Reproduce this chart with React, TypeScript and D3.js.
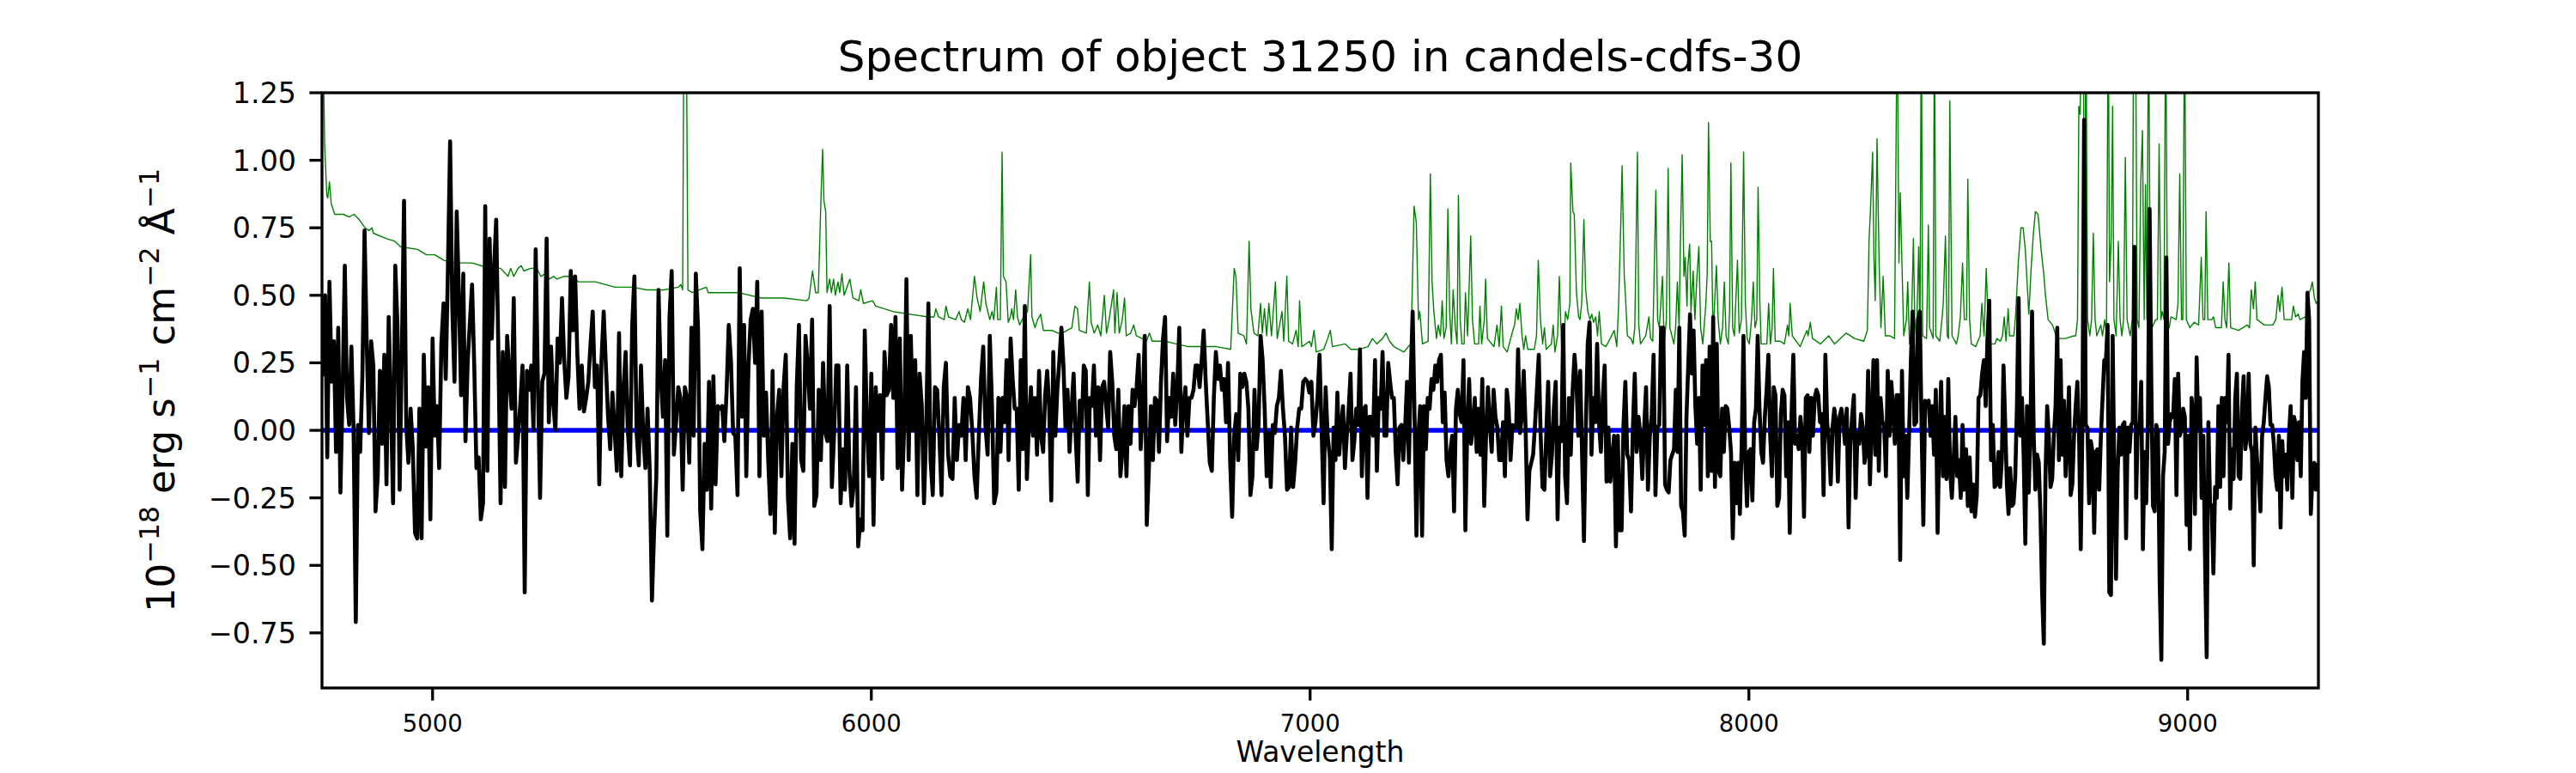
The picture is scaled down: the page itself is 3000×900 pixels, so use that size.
import React from 'react';
import * as d3 from 'd3';

const W = 3000;
const H = 900;
const PLOT = { left: 375, right: 2700, top: 108, bottom: 801 };
const FONT = '"DejaVu Sans", Verdana, sans-serif';

const TITLE = 'Spectrum of object 31250 in candels-cdfs-30';
const X_LABEL = 'Wavelength';
const X_RANGE: [number, number] = [4748, 9298];
const Y_RANGE: [number, number] = [-0.954, 1.25];
const X_TICKS = [5000, 6000, 7000, 8000, 9000];
const Y_TICKS = [-0.75, -0.5, -0.25, 0, 0.25, 0.5, 0.75, 1.0, 1.25];

// flux is sampled evenly inside each wavelength segment
const SEG_START = [4750, 5505, 6285, 7045, 7805, 8565];
const SEG_END = [5500, 6280, 7040, 7800, 8560, 9296];

const FLUX_A = [
  0.2, 0.5, -0.1, 0.55, 0.18, 0.33, -0.08, 0.38, -0.23, 0.15, 0.61, 0.12, 0.02, 0.31, 0.0, -0.71, 0.02, -0.08, 0.2, 0.74,
  0.32, -0.01, 0.33, 0.24, -0.3, -0.17, 0.22, -0.05, 0.28, -0.2, 0.42, 0.1, -0.27, 0.61, 0.39, -0.22, 0.3, 0.85, 0.02, -0.12,
  0.08, -0.07, -0.38, -0.4, 0.08, -0.4, 0.28, -0.06, 0.16, -0.33, 0.34, -0.02, 0.09, -0.14, 0.32, 0.47, 0.19, 0.6, 1.07, 0.45,
  0.18, 0.81, 0.5, 0.13, 0.58, -0.04, 0.25, 0.4, 0.54, 0.24, -0.14, -0.1, -0.33, -0.27, 0.83, -0.15, 0.71, 0.34, 0.6, 0.78,
  0.29, -0.27, 0.29, -0.21, 0.35, 0.2, 0.08, 0.49, -0.12, -0.02, 0.1, 0.24, -0.6, 0.22, 0.15, 0.24, 0.0, 0.67, 0.18, -0.25,
  0.18, 0.21, 0.71, 0.03, 0.31, 0.1, 0.0, 0.34, 0.25, 0.49, 0.26, 0.12, 0.2, 0.59, 0.37, 0.57, 0.28, 0.08, 0.24, 0.07,
  0.12, 0.18, 0.32, 0.44, 0.16, 0.24, -0.2, 0.26, 0.44, 0.24, 0.05, -0.07, 0.14, 0.0, -0.15, 0.36, -0.17, 0.15, 0.29, 0.0,
  -0.13, 0.39, 0.57, -0.01, -0.13, 0.24, -0.01, -0.14, 0.08, -0.15, -0.63,
];

const FLUX_B = [
  -0.37, -0.17, 0.52, 0.2, 0.05, 0.26, -0.39, 0.42, 0.59, -0.09, 0.03, 0.16, 0.12, -0.22, 0.16, 0.12, -0.12, 0.38, -0.02, 0.58,
  0.38, -0.3, -0.44, -0.05, -0.22, 0.18, -0.29, 0.2, -0.2, 0.09, 0.08, 0.09, -0.04, 0.14, 0.39, 0.26, -0.01, -0.02, -0.24, 0.6,
  0.05, 0.39, -0.17, 0.24, 0.41, 0.45, 0.25, 0.55, -0.17, 0.44, -0.02, 0.14, -0.11, -0.31, 0.22, -0.38, 0.05, 0.15, -0.17, 0.16,
  0.28, -0.25, -0.4, -0.05, -0.42, 0.16, 0.39, -0.11, -0.15, 0.35, 0.24, 0.08, 0.41, -0.28, -0.24, 0.15, -0.11, 0.25, -0.01, -0.04,
  0.46, -0.21, -0.02, 0.24, 0.24, -0.27, -0.07, -0.22, 0.24, -0.15, -0.28, -0.2, 0.16, -0.43, -0.33, -0.37, 0.37, 0.02, -0.17, 0.21,
  -0.35, 0.16, 0.0, 0.13, -0.18, 0.29, 0.13, 0.15, 0.39, 0.12, 0.42, -0.14, 0.34, -0.22, 0.02, 0.56, -0.11, 0.35, 0.0, 0.26,
  -0.24, 0.21, 0.09, -0.27, 0.0, 0.47, -0.11, -0.24, 0.16, 0.15, -0.02, -0.24, 0.16, 0.25, -0.09, -0.17, -0.18, 0.12, -0.11, 0.02,
  -0.02, 0.12, -0.11, 0.16, 0.12, 0.0, -0.17, -0.25, -0.02, 0.19, 0.31, 0.02, -0.09, 0.35, 0.09, -0.27,
];

const FLUX_C = [
  -0.23, 0.12, -0.08, 0.12, 0.03, 0.26, -0.11, 0.34, 0.19, 0.08, 0.08, -0.22, 0.26, -0.07, 0.46, -0.18, 0.02, 0.16, -0.02, 0.12,
  -0.09, 0.22, -0.02, -0.08, 0.13, 0.22, 0.08, -0.26, 0.29, -0.02, 0.15, 0.26, 0.38, 0.24, 0.01, 0.15, -0.08, 0.08, 0.21, -0.02,
  -0.19, 0.11, 0.01, 0.24, 0.22, -0.24, 0.12, 0.09, 0.24, -0.02, 0.16, -0.11, 0.16, 0.18, 0.09, 0.01, 0.29, 0.18, -0.02, -0.07,
  0.15, -0.17, -0.08, 0.09, -0.17, 0.09, -0.05, 0.15, 0.09, 0.16, 0.28, -0.07, 0.09, 0.35, -0.35, -0.15, 0.09, -0.11, 0.12, 0.11,
  -0.08, 0.18, 0.34, 0.42, -0.04, 0.12, 0.05, 0.21, 0.02, 0.16, 0.38, -0.08, 0.09, 0.16, -0.02, 0.12, 0.12, 0.15, 0.24, 0.24,
  0.16, 0.26, 0.37, 0.18, 0.03, -0.12, -0.15, 0.12, 0.29, 0.19, 0.24, 0.15, 0.19, 0.03, 0.25, -0.11, -0.32, -0.02, 0.06, -0.11,
  0.21, 0.16, 0.21, 0.18, 0.08, -0.24, -0.17, 0.15, -0.07, 0.02, 0.35, 0.26, 0.08, -0.17, -0.01, -0.21, 0.02, -0.01, 0.09, 0.12,
  0.22, 0.08, -0.02, -0.22, -0.21, 0.01, -0.21, -0.12, 0.01, 0.08, 0.08, 0.18, 0.19, 0.18, 0.14, 0.18, -0.02, 0.03, 0.12, 0.28,
  0.01, -0.27, 0.16, -0.02,
];

const FLUX_D = [
  -0.1, -0.44, 0.01, -0.11, 0.14, -0.09, 0.02, 0.09, -0.14, -0.02, 0.08, 0.21, -0.11, -0.04, 0.08, 0.02, 0.3, -0.17, 0.08, 0.09,
  -0.25, 0.05, 0.05, -0.02, 0.26, -0.15, 0.12, 0.08, 0.29, -0.02, -0.02, 0.25, 0.18, 0.12, 0.12, -0.08, -0.2, 0.01, 0.02, -0.11,
  0.01, 0.18, -0.12, 0.21, 0.44, 0.05, -0.39, -0.02, 0.09, -0.39, 0.09, -0.07, 0.12, 0.08, 0.19, 0.15, 0.24, 0.18, 0.26, 0.28,
  0.03, 0.14, -0.11, -0.17, -0.08, -0.02, -0.3, 0.08, 0.15, 0.06, 0.03, 0.26, -0.37, 0.01, 0.19, -0.05, 0.01, 0.12, -0.08, 0.08,
  -0.09, 0.19, -0.28, -0.02, 0.16, 0.02, -0.08, 0.15, 0.05, 0.01, -0.11, -0.11, 0.03, -0.17, 0.15, 0.08, -0.11, 0.02, 0.01, 0.01,
  0.3, -0.01, 0.05, 0.22, 0.01, -0.33, -0.15, -0.12, -0.09, 0.02, 0.15, 0.28, -0.02, -0.21, -0.22, -0.01, 0.18, -0.17, -0.09, 0.08,
  0.18, -0.33, 0.01, -0.04, 0.39, -0.17, -0.27, 0.12, -0.09, 0.15, 0.28, 0.18, -0.02, 0.22, -0.09, -0.41, 0.01, 0.32, 0.4, -0.09,
  0.12, 0.03, 0.32, 0.03, -0.08, 0.12, 0.24, -0.19, 0.01, -0.19, -0.11, -0.02, -0.43, -0.02, -0.37, -0.37, 0.02, 0.18, -0.09, -0.11,
  -0.3, 0.01, 0.21, -0.08, 0.05, -0.02, -0.18, 0.01, 0.16, -0.22, -0.02, 0.06, 0.28, -0.24, 0.01, 0.02, 0.38,
];

const FLUX_E = [
  0.38, -0.2, -0.22, -0.23, -0.11, -0.09, -0.07, 0.15, -0.08, 0.38, -0.28, -0.3, -0.39, 0.05, 0.24, 0.43, 0.21, 0.37, 0.09, -0.05,
  0.12, -0.22, 0.24, 0.02, 0.26, -0.17, 0.31, -0.15, 0.42, -0.21, 0.32, -0.15, -0.17, 0.08, -0.08, 0.09, 0.08, 0.01, -0.08, -0.4,
  -0.12, -0.27, -0.12, -0.31, -0.05, 0.35, -0.11, -0.28, -0.08, -0.07, -0.26, 0.03, 0.08, 0.35, 0.08, -0.08, -0.12, 0.05, 0.15, 0.28,
  -0.02, -0.17, 0.16, 0.13, -0.28, -0.25, 0.06, 0.15, 0.13, -0.17, 0.03, -0.38, 0.06, 0.28, -0.05, -0.02, -0.07, 0.05, -0.02, -0.32,
  0.12, 0.13, -0.08, 0.12, -0.02, 0.12, 0.15, 0.13, 0.03, 0.06, -0.24, 0.28, 0.03, -0.05, -0.2, 0.01, 0.08, 0.03, -0.19, 0.05,
  0.08, 0.03, -0.05, 0.08, -0.36, -0.05, 0.05, 0.13, -0.25, -0.01, -0.05, 0.06, 0.01, -0.12, -0.08, 0.22, -0.2, 0.03, 0.26, -0.09,
  0.26, -0.15, 0.12, 0.03, 0.02, -0.17, 0.22, -0.02, 0.18, 0.08, -0.05, 0.13, 0.13, -0.48, 0.22, -0.17, -0.02, -0.25, -0.01, 0.26,
  0.44, 0.02, 0.03, 0.41, 0.44, 0.01, -0.35, 0.11, 0.09, 0.11, -0.02, 0.09, -0.09, 0.15, -0.38, -0.02, 0.18, -0.17, 0.05, -0.18,
  0.19, -0.14, -0.25, -0.11, 0.05, -0.17, -0.11, -0.25, 0.02, -0.22, -0.07, -0.28, -0.1, -0.3, -0.2, -0.32, -0.24, 0.12, 0.13, 0.21,
  0.26, 0.09, 0.34, 0.48, -0.11, 0.02, -0.21,
];

const FLUX_F = [
  -0.2, -0.08, -0.21, -0.11, 0.24, 0.03, -0.2, -0.31, -0.14, -0.28, -0.27, -0.17, 0.09, 0.49, -0.02, 0.12, -0.09, -0.42, 0.09, -0.23,
  -0.02, 0.44, -0.02, -0.22, -0.09, -0.12, -0.31, -0.6, -0.79, -0.17, 0.09, -0.02, -0.21, -0.18, -0.02, 0.09, 0.38, -0.11, 0.26, -0.09,
  0.11, -0.17, -0.02, 0.16, -0.24, -0.2, -0.02, 0.09, 0.18, -0.02, -0.44, 0.02, 1.15, 0.02, 0.01, -0.27, -0.04, -0.08, -0.38, -0.08,
  -0.07, -0.22, -0.02, 0.12, 0.26, 0.26, 0.39, -0.6, -0.61, 0.35, -0.17, -0.55, -0.15, 0.01, -0.09, 0.02, 0.03, -0.4, 0.01, -0.08,
  0.02, 0.03, 0.68, -0.25, 0.02, -0.01, 0.18, -0.44, -0.08, -0.27, 0.03, 0.82, 0.19, -0.28, -0.3, 0.02, -0.01, -0.56, -0.85, -0.17,
  -0.08, 0.64, -0.05, 0.03, 0.06, 0.05, 0.19, -0.24, 0.21, -0.02, 0.01, 0.08, 0.05, -0.35, -0.02, -0.44, 0.12, 0.05, -0.31, 0.27,
  0.01, 0.12, -0.25, -0.02, -0.47, -0.84, 0.03, -0.27, -0.28, -0.53, -0.21, -0.25, 0.09, -0.21, 0.12, -0.17, 0.12, 0.03, 0.28, -0.29,
  -0.07, -0.18, 0.12, 0.21, -0.17, -0.18, 0.08, 0.2, -0.07, -0.01, 0.21, -0.05, -0.08, -0.5, 0.01, -0.11, -0.18, -0.3, -0.02, 0.03,
  0.12, 0.2, 0.16, 0.02, 0.02, -0.05, -0.17, -0.22, -0.02, -0.36, -0.04, -0.17, -0.09, -0.22, -0.02, 0.09, -0.25, 0.05, 0.02, -0.11,
  0.03, -0.17, 0.18, 0.29, 0.12, 0.51, 0.41, -0.31, -0.17, -0.12, -0.22, -0.12,
];

const FLUX_SEGMENTS = [FLUX_A, FLUX_B, FLUX_C, FLUX_D, FLUX_E, FLUX_F];

// error spectrum [wavelength, value]; sky lines run off the top of the axes
const ERROR_SPECTRUM: [number, number][] = [
  [4749, 1.6], [4754, 1.06], [4759, 0.87], [4761, 0.86], [4765, 0.92], [4769, 0.84], [4777, 0.8], [4787, 0.8], [4797, 0.8],
  [4810, 0.79], [4821, 0.8], [4833, 0.78], [4846, 0.75], [4855, 0.74], [4862, 0.75], [4865, 0.73], [4895, 0.71], [4914, 0.7],
  [4927, 0.68], [4966, 0.67], [4986, 0.65], [5005, 0.65], [5025, 0.63], [5045, 0.62], [5090, 0.62], [5110, 0.61], [5129, 0.6],
  [5155, 0.6], [5172, 0.57], [5178, 0.6], [5185, 0.57], [5195, 0.6], [5202, 0.61], [5208, 0.59], [5224, 0.6], [5237, 0.6],
  [5247, 0.57], [5257, 0.58], [5266, 0.56], [5276, 0.57], [5283, 0.56], [5299, 0.57], [5319, 0.57], [5332, 0.55], [5371, 0.55],
  [5416, 0.53], [5456, 0.53], [5488, 0.52], [5521, 0.52], [5527, 0.52], [5560, 0.53], [5566, 0.54], [5570, 0.52], [5573, 1.6],
  [5578, 1.6], [5582, 0.52], [5592, 0.51], [5624, 0.53], [5628, 0.51], [5658, 0.51], [5697, 0.51], [5749, 0.49], [5801, 0.49],
  [5853, 0.48], [5858, 0.49], [5866, 0.59], [5873, 0.51], [5879, 0.51], [5886, 0.9], [5889, 1.04], [5892, 0.85], [5896, 0.81],
  [5899, 0.51], [5905, 0.56], [5909, 0.51], [5914, 0.56], [5918, 0.5], [5924, 0.55], [5928, 0.51], [5933, 0.58], [5938, 0.5],
  [5951, 0.56], [5958, 0.49], [5971, 0.48], [5976, 0.52], [5982, 0.47], [6003, 0.48], [6010, 0.46], [6049, 0.44], [6088, 0.43],
  [6130, 0.42], [6143, 0.42], [6147, 0.45], [6153, 0.42], [6166, 0.41], [6170, 0.46], [6176, 0.42], [6192, 0.41], [6200, 0.44],
  [6205, 0.41], [6212, 0.4], [6220, 0.45], [6226, 0.41], [6235, 0.57], [6241, 0.49], [6248, 0.44], [6256, 0.55], [6261, 0.47],
  [6270, 0.41], [6275, 0.44], [6279, 0.41], [6285, 0.53], [6288, 0.41], [6294, 0.41], [6298, 1.03], [6301, 0.57], [6307, 0.55],
  [6312, 0.4], [6317, 0.42], [6320, 0.45], [6324, 0.41], [6329, 0.52], [6333, 0.42], [6338, 0.39], [6350, 0.43], [6356, 0.44],
  [6363, 0.65], [6366, 0.42], [6373, 0.38], [6379, 0.41], [6386, 0.43], [6392, 0.37], [6412, 0.37], [6425, 0.36], [6435, 0.36],
  [6457, 0.38], [6464, 0.46], [6470, 0.45], [6474, 0.37], [6490, 0.36], [6497, 0.55], [6501, 0.4], [6508, 0.36], [6516, 0.39],
  [6523, 0.35], [6531, 0.5], [6536, 0.36], [6542, 0.41], [6552, 0.52], [6555, 0.36], [6560, 0.51], [6565, 0.36], [6572, 0.41],
  [6577, 0.49], [6581, 0.35], [6591, 0.36], [6598, 0.39], [6604, 0.35], [6617, 0.34], [6627, 0.33], [6634, 0.36], [6640, 0.33],
  [6669, 0.33], [6695, 0.32], [6722, 0.31], [6748, 0.31], [6787, 0.31], [6819, 0.3], [6827, 0.6], [6831, 0.57], [6836, 0.36],
  [6849, 0.35], [6855, 0.32], [6861, 0.7], [6865, 0.45], [6872, 0.36], [6881, 0.35], [6887, 0.47], [6891, 0.36], [6896, 0.45],
  [6901, 0.35], [6906, 0.47], [6912, 0.35], [6921, 0.55], [6925, 0.34], [6936, 0.44], [6940, 0.33], [6947, 0.57], [6951, 0.33],
  [6960, 0.32], [6968, 0.37], [6973, 0.31], [6976, 0.48], [6981, 0.31], [6999, 0.33], [7003, 0.31], [7009, 0.37], [7014, 0.29],
  [7031, 0.3], [7040, 0.34], [7046, 0.37], [7051, 0.31], [7080, 0.32], [7093, 0.3], [7113, 0.3], [7132, 0.31], [7142, 0.34],
  [7152, 0.32], [7165, 0.34], [7173, 0.36], [7181, 0.33], [7191, 0.31], [7214, 0.29], [7224, 0.31], [7230, 0.32], [7237, 0.83],
  [7242, 0.77], [7247, 0.41], [7250, 0.44], [7253, 0.38], [7256, 0.32], [7269, 0.33], [7274, 0.95], [7278, 0.55], [7282, 0.44],
  [7288, 0.34], [7292, 0.39], [7297, 0.35], [7301, 0.48], [7305, 0.34], [7310, 0.38], [7314, 0.82], [7318, 0.44], [7322, 0.32],
  [7326, 0.52], [7331, 0.38], [7335, 0.32], [7338, 0.87], [7342, 0.41], [7346, 0.32], [7351, 0.32], [7354, 0.51], [7359, 0.35],
  [7366, 0.72], [7370, 0.41], [7375, 0.32], [7384, 0.32], [7387, 0.46], [7391, 0.32], [7397, 0.41], [7400, 0.56], [7404, 0.34],
  [7419, 0.31], [7426, 0.39], [7431, 0.31], [7436, 0.46], [7440, 0.31], [7449, 0.29], [7462, 0.37], [7466, 0.39], [7470, 0.45],
  [7474, 0.41], [7478, 0.47], [7483, 0.35], [7487, 0.3], [7491, 0.35], [7496, 0.3], [7511, 0.3], [7516, 0.35], [7520, 0.63],
  [7525, 0.41], [7530, 0.32], [7534, 0.38], [7538, 0.3], [7550, 0.32], [7554, 0.39], [7558, 0.29], [7564, 0.35], [7568, 0.57],
  [7573, 0.31], [7578, 0.31], [7582, 0.44], [7587, 0.41], [7592, 0.47], [7594, 0.99], [7599, 0.81], [7602, 0.8], [7607, 0.51],
  [7612, 0.42], [7615, 0.41], [7619, 0.47], [7624, 0.78], [7628, 0.52], [7633, 0.44], [7638, 0.41], [7642, 0.43], [7646, 0.4],
  [7651, 0.42], [7655, 0.35], [7659, 0.44], [7664, 0.32], [7674, 0.31], [7684, 0.34], [7693, 0.37], [7699, 0.31], [7703, 0.46],
  [7708, 0.76], [7711, 0.98], [7716, 0.57], [7719, 0.49], [7723, 0.35], [7731, 0.34], [7736, 0.32], [7740, 0.38], [7746, 1.03],
  [7749, 0.39], [7753, 0.32], [7765, 0.35], [7772, 0.42], [7776, 0.34], [7781, 0.33], [7788, 0.89], [7792, 0.41], [7796, 0.38],
  [7803, 0.57], [7807, 0.32], [7812, 0.41], [7816, 0.97], [7820, 0.38], [7829, 0.32], [7833, 0.38], [7837, 0.55], [7841, 0.38],
  [7844, 0.7], [7848, 1.02], [7852, 0.57], [7855, 0.64], [7859, 0.46], [7861, 0.61], [7865, 0.69], [7868, 0.44], [7873, 0.59],
  [7877, 0.41], [7881, 0.55], [7886, 0.68], [7890, 0.38], [7895, 0.32], [7902, 0.47], [7905, 0.58], [7908, 1.14], [7912, 0.7],
  [7915, 0.7], [7918, 0.38], [7921, 0.44], [7926, 0.61], [7930, 0.41], [7935, 0.32], [7940, 0.38], [7944, 0.55], [7948, 0.35],
  [7953, 0.32], [7956, 0.44], [7959, 0.99], [7963, 0.38], [7967, 0.35], [7970, 0.47], [7974, 0.63], [7978, 0.36], [7983, 0.41],
  [7988, 1.03], [7992, 0.47], [7996, 0.34], [8001, 0.32], [8006, 0.41], [8010, 0.55], [8014, 0.38], [8018, 0.41], [8021, 0.9],
  [8025, 0.47], [8028, 0.32], [8041, 0.32], [8045, 0.47], [8049, 0.32], [8053, 0.38], [8056, 0.6], [8060, 0.33], [8071, 0.33],
  [8081, 0.32], [8088, 0.39], [8091, 0.35], [8094, 0.47], [8099, 0.35], [8117, 0.31], [8132, 0.37], [8135, 0.35], [8140, 0.4],
  [8145, 0.34], [8163, 0.32], [8182, 0.35], [8195, 0.32], [8222, 0.36], [8241, 0.34], [8262, 0.33], [8270, 0.37], [8274, 0.71],
  [8277, 0.81], [8282, 1.03], [8285, 0.64], [8288, 0.48], [8292, 1.08], [8297, 0.61], [8301, 0.38], [8306, 0.57], [8311, 0.35],
  [8321, 0.35], [8332, 0.34], [8338, 1.6], [8342, 0.62], [8345, 0.88], [8349, 0.61], [8353, 0.35], [8359, 0.41], [8362, 0.55],
  [8366, 0.32], [8370, 0.35], [8375, 0.71], [8378, 0.41], [8382, 0.34], [8387, 0.68], [8390, 0.35], [8393, 1.6], [8396, 0.35],
  [8405, 0.34], [8409, 0.76], [8412, 0.38], [8420, 0.34], [8423, 1.6], [8426, 0.35], [8435, 0.33], [8440, 0.41], [8443, 0.47],
  [8448, 0.72], [8452, 0.35], [8455, 0.34], [8458, 1.22], [8463, 0.35], [8473, 0.32], [8477, 0.35], [8482, 0.42], [8487, 0.62],
  [8491, 0.41], [8496, 0.41], [8499, 0.93], [8503, 0.41], [8507, 0.32], [8517, 0.31], [8527, 0.35], [8531, 0.47], [8536, 0.35],
  [8541, 0.6], [8546, 0.37], [8550, 0.32], [8561, 0.32], [8565, 0.34], [8573, 0.33], [8578, 0.35], [8582, 0.42], [8586, 0.33],
  [8591, 0.45], [8594, 0.35], [8604, 0.35], [8608, 0.43], [8614, 0.62], [8620, 0.75], [8625, 0.75], [8630, 0.67], [8635, 0.52],
  [8638, 0.43], [8643, 0.59], [8648, 0.72], [8653, 0.81], [8659, 0.8], [8666, 0.67], [8672, 0.58], [8676, 0.5], [8682, 0.41],
  [8692, 0.39], [8702, 0.34], [8721, 0.34], [8741, 0.35], [8745, 0.35], [8749, 0.41], [8752, 1.2], [8755, 1.17], [8759, 1.6],
  [8762, 1.6], [8765, 0.41], [8768, 1.6], [8772, 0.41], [8777, 0.35], [8781, 0.41], [8785, 0.73], [8789, 0.41], [8793, 0.35],
  [8802, 0.39], [8806, 0.35], [8811, 0.41], [8815, 0.35], [8819, 1.6], [8822, 0.55], [8826, 0.72], [8829, 1.2], [8832, 0.41],
  [8837, 0.35], [8842, 0.7], [8846, 0.41], [8850, 0.35], [8854, 0.41], [8858, 1.01], [8862, 0.41], [8869, 0.35], [8874, 0.41],
  [8877, 1.6], [8881, 1.6], [8885, 0.41], [8889, 0.38], [8893, 0.91], [8897, 1.11], [8901, 0.41], [8904, 0.91], [8907, 0.41],
  [8911, 1.6], [8915, 0.41], [8919, 0.38], [8927, 0.41], [8931, 0.41], [8935, 1.06], [8939, 0.41], [8942, 0.44], [8946, 0.41],
  [8950, 1.6], [8954, 0.41], [8958, 0.38], [8962, 0.42], [8974, 0.41], [8978, 0.47], [8982, 0.95], [8986, 0.41], [8989, 0.41],
  [8993, 1.6], [8997, 0.41], [9005, 0.38], [9015, 0.4], [9025, 0.39], [9031, 0.64], [9035, 0.41], [9039, 0.41], [9042, 0.81],
  [9046, 0.41], [9055, 0.41], [9059, 0.42], [9064, 0.38], [9077, 0.38], [9081, 0.55], [9085, 0.41], [9089, 0.38], [9094, 0.62],
  [9098, 0.38], [9116, 0.37], [9136, 0.39], [9141, 0.38], [9145, 0.52], [9150, 0.45], [9154, 0.55], [9158, 0.41], [9175, 0.39],
  [9194, 0.39], [9201, 0.41], [9206, 0.5], [9210, 0.44], [9215, 0.53], [9220, 0.41], [9237, 0.41], [9241, 0.46], [9246, 0.42],
  [9252, 0.43], [9256, 0.41], [9269, 0.42], [9276, 0.51], [9280, 0.52], [9284, 0.55], [9289, 0.49], [9293, 0.47], [9298, 0.48],
];

const ZERO_LINE: [number, number][] = [[4750, 0], [9296, 0]];

const App: React.FC = () => {
  const x = d3.scaleLinear().domain(X_RANGE).range([PLOT.left, PLOT.right]);
  const y = d3.scaleLinear().domain(Y_RANGE).range([PLOT.bottom, PLOT.top]);
  const fmtY = d3.format('.2f');

  const flux: [number, number][] = FLUX_SEGMENTS.flatMap((vals, k) => {
    const step = (SEG_END[k] - SEG_START[k]) / (vals.length - 1);
    return vals.map((v, j) => [SEG_START[k] + j * step, v] as [number, number]);
  });

  const line = d3.line<[number, number]>().x(d => x(d[0])).y(d => y(d[1]));
  const cx = (PLOT.left + PLOT.right) / 2;
  const cy = (PLOT.top + PLOT.bottom) / 2;
  const sup = { fontSize: 31.5 };

  return (
    <div style={{ position: 'absolute', left: 0, top: 0 }}>
      <svg width={W} height={H} style={{ display: 'block', background: '#fff' }} fontFamily={FONT}>
        <defs>
          <clipPath id="plot-clip">
            <rect x={PLOT.left} y={PLOT.top} width={PLOT.right - PLOT.left} height={PLOT.bottom - PLOT.top} />
          </clipPath>
        </defs>

        <g clipPath="url(#plot-clip)" fill="none" strokeLinejoin="round">
          <path d={line(ZERO_LINE) ?? ''} stroke="#0000ff" strokeWidth={5.5} />
          <path d={line(ERROR_SPECTRUM) ?? ''} stroke="#008000" strokeWidth={1.4} />
          <path d={line(flux) ?? ''} stroke="#000000" strokeWidth={4.6} />
        </g>

        <rect x={PLOT.left} y={PLOT.top} width={PLOT.right - PLOT.left} height={PLOT.bottom - PLOT.top}
          fill="none" stroke="#000" strokeWidth={3.3} />

        {X_TICKS.map(t => (
          <g key={`x${t}`} transform={`translate(${x(t)},${PLOT.bottom})`}>
            <line y1={0} y2={14.6} stroke="#000" strokeWidth={3.3} />
            <text y={51} textAnchor="middle" fontSize={27.5}>{t}</text>
          </g>
        ))}

        {Y_TICKS.map(t => (
          <g key={`y${t}`} transform={`translate(${PLOT.left},${y(t)})`}>
            <line x1={0} x2={-14.6} stroke="#000" strokeWidth={3.3} />
            <text x={-30} dy="0.36em" textAnchor="end" fontSize={33.3}>{fmtY(t)}</text>
          </g>
        ))}

        <text x={cx} y={83} textAnchor="middle" fontSize={50}>{TITLE}</text>
        <text x={cx} y={887} textAnchor="middle" fontSize={33}>{X_LABEL}</text>

        <text transform={`translate(203,${cy}) rotate(-90)`} textAnchor="middle" fontSize={45}>
          <tspan>10</tspan>
          <tspan style={sup} dy={-18}>{'\u221218'}</tspan>
          <tspan dy={18}>{' erg s'}</tspan>
          <tspan style={sup} dy={-18}>{'\u22121'}</tspan>
          <tspan dy={18}>{' cm'}</tspan>
          <tspan style={sup} dy={-18}>{'\u22122'}</tspan>
          <tspan dy={18}>{' \u00c5'}</tspan>
          <tspan style={sup} dy={-18}>{'\u22121'}</tspan>
        </text>
      </svg>
    </div>
  );
};

export default App;
